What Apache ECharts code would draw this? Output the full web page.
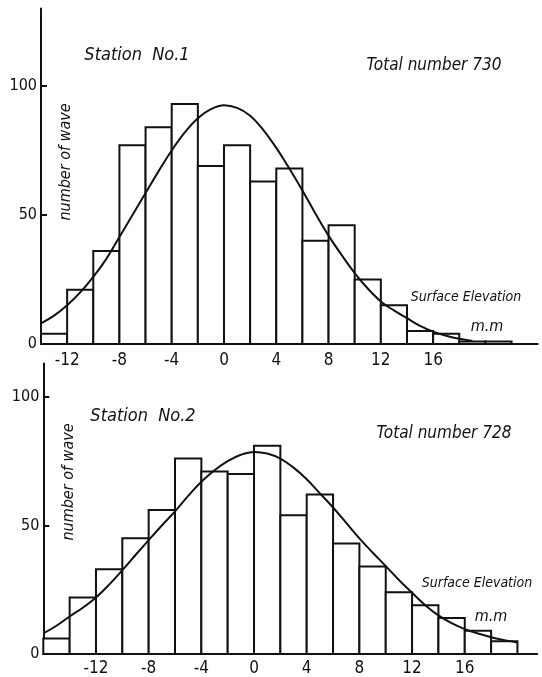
<!DOCTYPE html>
<html>
<head>
<meta charset="utf-8">
<style>
  html, body { margin: 0; padding: 0; background: #fff; }
  #chart { width: 542px; height: 677px; }
</style>
<script src="https://cdn.jsdelivr.net/npm/echarts@6/dist/echarts.min.js"></script>
</head>
<body>
<div id="chart"></div>
<script>
// Station No.1 — bin edges (mm) and wave counts per 2 mm bin
const topEdges  = [-14, -12, -10, -8, -6, -4, -2, 0, 2, 4, 6, 8, 10, 12, 14, 16, 18, 20, 22];
const topCounts = [4, 21, 36, 77, 84, 93, 69, 77, 63, 68, 40, 46, 25, 15, 5, 4, 1, 1];
// fitted distribution curve for Station No.1
const topCurveX = [-14, -13, -12, -11, -10, -9, -8, -7, -6, -5, -4, -3, -2, -1, 0, 1, 2, 3, 4, 5, 6, 7, 8, 9, 10, 11, 12, 13, 14, 15, 16, 17, 18, 19];
const topCurveY = [8, 11, 15, 20, 26, 33, 41.5, 50, 58.5, 67, 75, 82, 87.5, 91, 92.5, 91.5, 88.5, 83, 76, 68, 59.5, 50.5, 42, 34.5, 27.5, 21.5, 16.5, 13, 10, 7, 4.8, 3.2, 2, 1.2];

// Station No.2
const botEdges  = [-16, -14, -12, -10, -8, -6, -4, -2, 0, 2, 4, 6, 8, 10, 12, 14, 16, 18, 20];
const botCounts = [6, 22, 33, 45, 56, 76, 71, 70, 81, 54, 62, 43, 34, 24, 19, 14, 9, 5];
const botCurveX = [-16, -15, -14, -13, -12, -11, -10, -9, -8, -7, -6, -5, -4, -3, -2, -1, 0, 1, 2, 3, 4, 5, 6, 7, 8, 9, 10, 11, 12, 13, 14, 15, 16, 17, 18, 19, 20];
const botCurveY = [8, 11, 14.6, 18, 22, 27, 32.6, 38.5, 44.3, 50, 55.5, 61.5, 67, 71.5, 75, 77.5, 78.6, 78, 76, 72.5, 68, 62.5, 57, 51, 45, 39.5, 34.2, 28.8, 23.8, 19, 15, 12, 9.7, 8, 6.5, 5.4, 4.5];

// tick labels
const xTickValues = [-12, -8, -4, 0, 4, 8, 12, 16];
const yTickValues = [0, 50, 100];

const NUM_FONT = "'Liberation Sans Narrow', 'DejaVu Sans Condensed', 'Liberation Sans', sans-serif";
const INK = '#111';

function bins(edges, counts) {
  return counts.map((c, i) => [edges[i], edges[i + 1], c]);
}
function pairs(xs, ys) {
  return xs.map((x, i) => [x, ys[i]]);
}

function renderBin(params, api) {
  const lo = api.coord([api.value(0), api.value(2)]);
  const hi = api.coord([api.value(1), 0]);
  return {
    type: 'rect',
    shape: { x: lo[0], y: lo[1], width: hi[0] - lo[0], height: hi[1] - lo[1] },
    style: { fill: '#fff', stroke: INK, lineWidth: 2 }
  };
}

function xAxisFor(gridIndex, min, max, margin) {
  return {
    type: 'value', gridIndex, min, max,
    splitLine: { show: false },
    axisLine: { show: true, onZero: false, lineStyle: { color: INK, width: 2 } },
    axisTick: { show: false },
    axisLabel: {
      customValues: xTickValues, margin,
      color: INK, fontFamily: NUM_FONT, fontSize: 17
    }
  };
}
function yAxisFor(gridIndex, max) {
  return {
    type: 'value', gridIndex, min: 0, max,
    splitLine: { show: false },
    axisLine: { show: true, onZero: false, lineStyle: { color: INK, width: 2 } },
    axisTick: { show: true, inside: true, length: 6, customValues: yTickValues, lineStyle: { color: INK, width: 2 } },
    axisLabel: {
      customValues: yTickValues, margin: 4,
      color: INK, fontFamily: NUM_FONT, fontSize: 16
    }
  };
}

function label(text, x, y, size, rotation) {
  return {
    type: 'text', x, y, rotation: rotation || 0,
    style: {
      text, fill: INK, fontFamily: NUM_FONT, fontStyle: 'italic',
      fontSize: size, align: 'center', verticalAlign: 'middle'
    }
  };
}

const chart = echarts.init(document.getElementById('chart'));
chart.setOption({
  animation: false,
  backgroundColor: '#fff',
  grid: [
    { left: 41, top: 8.6, width: 496.7, height: 335.4 },
    { left: 43.3, top: 363.5, width: 493.9, height: 291.5 }
  ],
  xAxis: [xAxisFor(0, -14, 24, 8), xAxisFor(1, -16, 21.5, 6)],
  yAxis: [yAxisFor(0, 130), yAxisFor(1, 113)],
  series: [
    { type: 'custom', xAxisIndex: 0, yAxisIndex: 0, renderItem: renderBin, data: bins(topEdges, topCounts), z: 2 },
    { type: 'line', xAxisIndex: 0, yAxisIndex: 0, data: pairs(topCurveX, topCurveY), smooth: 0.4,
      showSymbol: false, lineStyle: { color: INK, width: 2 }, z: 3 },
    { type: 'custom', xAxisIndex: 1, yAxisIndex: 1, renderItem: renderBin, data: bins(botEdges, botCounts), z: 2 },
    { type: 'line', xAxisIndex: 1, yAxisIndex: 1, data: pairs(botCurveX, botCurveY), smooth: 0.4,
      showSymbol: false, lineStyle: { color: INK, width: 2 }, z: 3 }
  ],
  graphic: [
    label('Station  No.1', 137, 55, 18),
    label('Total number 730', 434, 66, 17),
    label('Surface Elevation', 466, 297, 14),
    label('m.m', 487, 327, 16),
    label('number of wave', 66, 162, 16, Math.PI / 2),
    label('Station  No.2', 143, 416, 18),
    label('Total number 728', 444, 434, 17),
    label('Surface Elevation', 477, 583, 14),
    label('m.m', 491, 617, 16),
    label('number of wave', 69, 482, 16, Math.PI / 2)
  ]
});
</script>
</body>
</html>
